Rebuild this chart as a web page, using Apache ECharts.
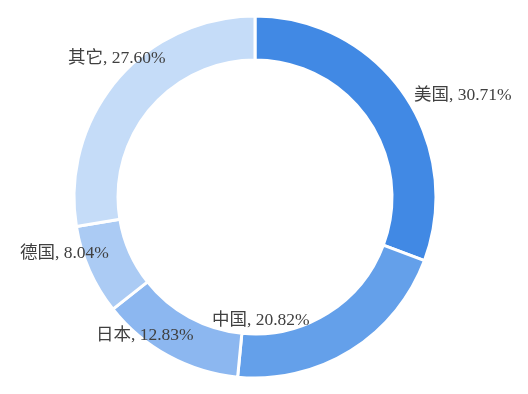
<!DOCTYPE html>
<html>
<head>
<meta charset="utf-8">
<script src="https://cdn.jsdelivr.net/npm/echarts@6/dist/echarts.min.js"></script>
<style>
  html, body { margin: 0; padding: 0; background: #fff; }
  #chart { width: 528px; height: 394px; }
</style>
</head>
<body>
<div id="chart"></div>
<script>
// 各国占比
const countries = ['美国', '中国', '日本', '德国', '其它'];
const shares = [30.71, 20.82, 12.83, 8.04, 27.60];
const colors = ['#4189e4', '#64a0ea', '#8cb7f0', '#abcbf4', '#c5dcf8'];

// 标签位置（与原图对齐）
const labelSpots = [
  [414, 95],
  [212, 320],
  [96, 335],
  [20, 253],
  [68, 58]
];

const chart = echarts.init(document.getElementById('chart'));

const option = {
  animation: false,
  series: [
    {
      type: 'pie',
      center: [255, 197],
      radius: [137, 181],
      startAngle: 90,
      clockwise: true,
      itemStyle: {
        borderColor: '#fff',
        borderWidth: 3
      },
      label: {
        show: true,
        position: 'outside',
        overflow: 'none',
        formatter: (p) => p.name + ', ' + p.value.toFixed(2) + '%',
        fontFamily: '"Liberation Serif", "Noto Sans CJK SC", serif',
        fontSize: 17.5,
        color: '#404040'
      },
      labelLine: { show: false },
      labelLayout: (params) => {
        const spot = labelSpots[params.dataIndex];
        return { x: spot[0], y: spot[1], align: 'left', verticalAlign: 'middle' };
      },
      emphasis: { disabled: true },
      data: countries.map((name, i) => ({
        name: name,
        value: shares[i],
        itemStyle: { color: colors[i] }
      }))
    }
  ]
};

chart.setOption(option);
</script>
</body>
</html>
